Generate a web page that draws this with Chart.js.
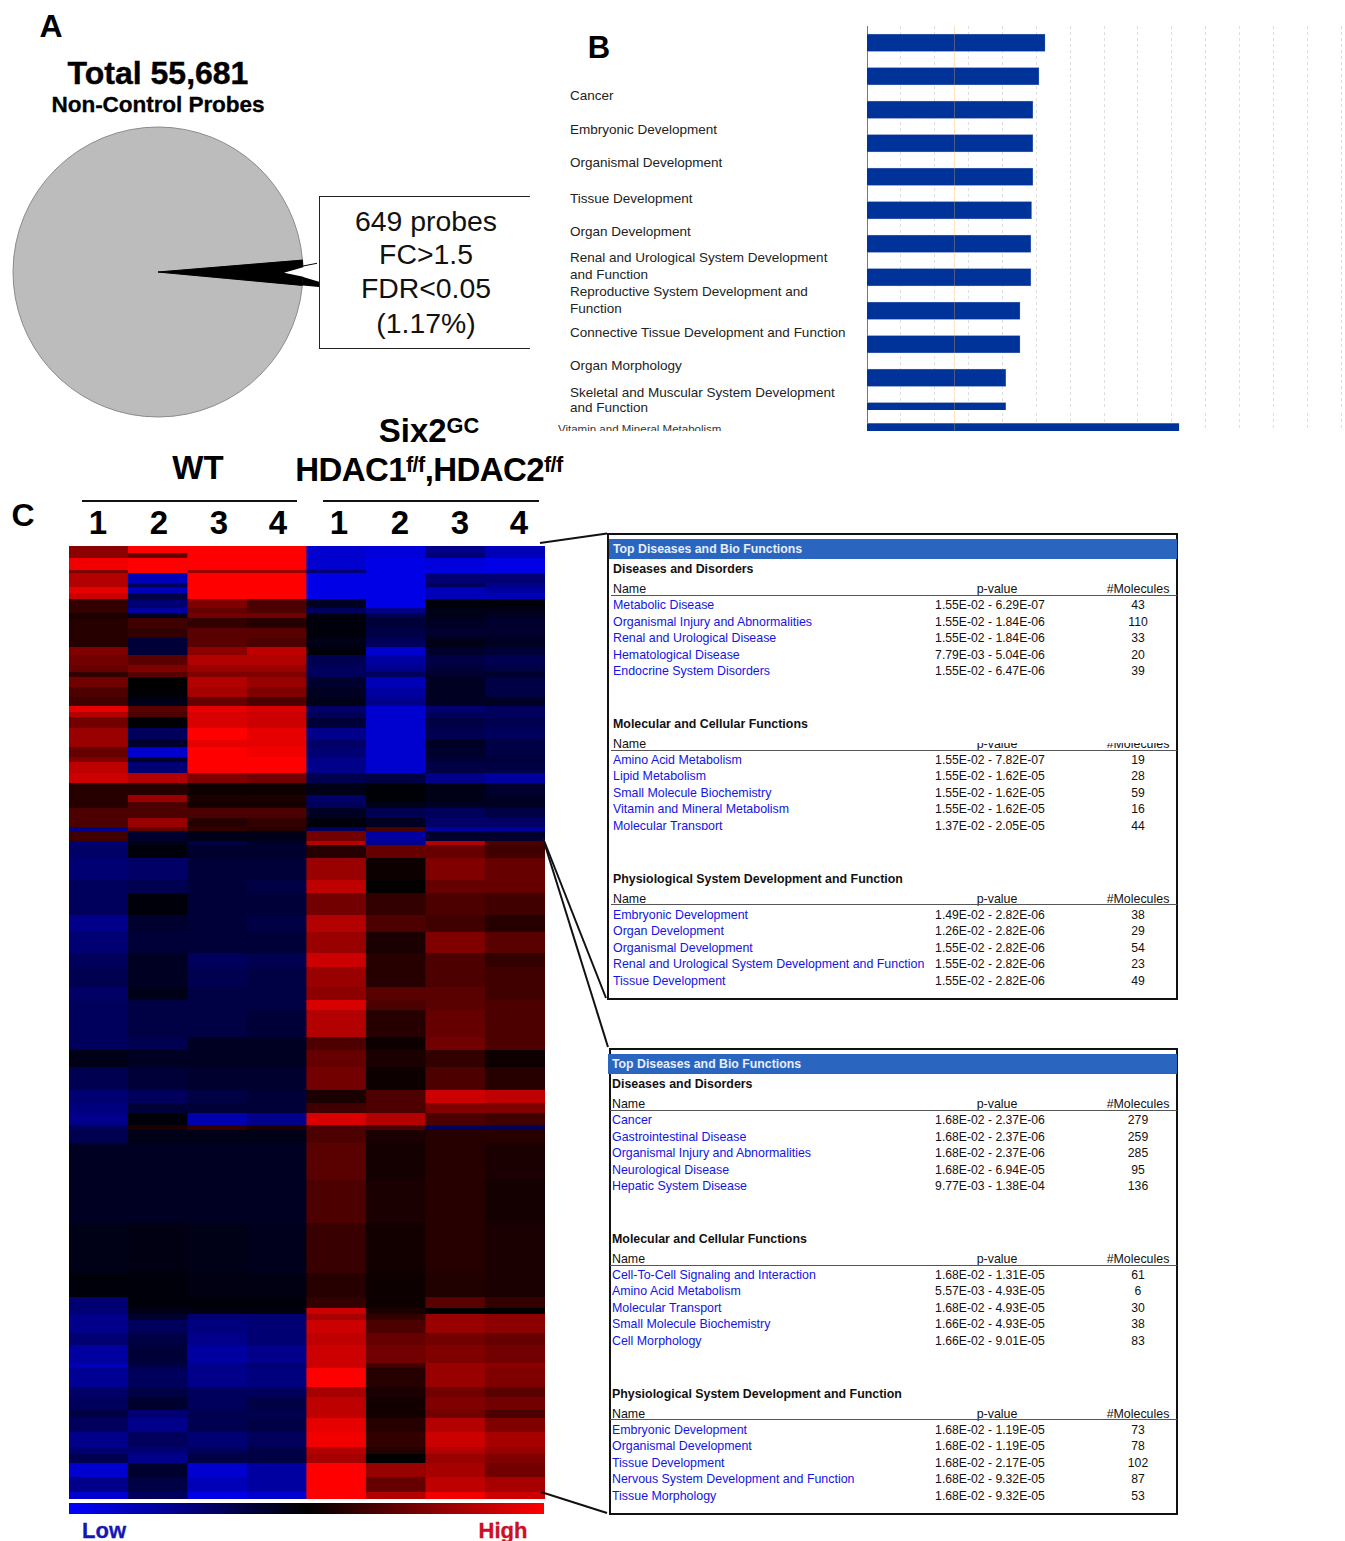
<!DOCTYPE html>
<html><head><meta charset="utf-8">
<script src="https://cdn.jsdelivr.net/npm/chart.js@4/dist/chart.umd.min.js"></script>
<style>
html,body{margin:0;padding:0;background:#fff}
#page{position:relative;width:1345px;height:1541px;overflow:hidden;font-family:"Liberation Sans",Arial,sans-serif;color:#000}
.t{position:absolute;white-space:nowrap;line-height:1}
.c{transform:translate(-50%,-50%)}
.m{transform:translateY(-50%)}
.clip{position:absolute;overflow:hidden}
canvas{display:block}
sup{font-size:.66em;line-height:0;vertical-align:baseline;position:relative;top:-.42em}
.box{position:absolute;border:2px solid #111;box-sizing:border-box;background:#fff}
</style></head><body><div id="page"></div>
<script>
/* ---------- A: pie ---------- */
const pieLabels = ['Unchanged probes', 'Changed probes'];
const pieValues = [54134, 1547];            // slice widths as drawn in the picture
const pieColors = ['#bcbcbc', '#000000'];
const boxLines = ['649 probes', 'FC>1.5', 'FDR<0.05', '(1.17%)'];

/* ---------- B: enrichment bars ---------- */
const barLabels = ['Cancer','Embryonic Development','Organismal Development','Tissue Development','Organ Development',
 'Renal and Urological System Development|and Function','Reproductive System Development and|Function',
 'Connective Tissue Development and Function','Organ Morphology','Skeletal and Muscular System Development|and Function',
 'Vitamin and Mineral Metabolism'];
const barCategories = ['a','b','c','d','e','f','g','h','i','j','k','l','m'];
const barValues = [2.63,2.54,2.45,2.45,2.45,2.43,2.42,2.42,2.26,2.26,2.05,2.05,4.61];
const threshold = 1.3;

/* ---------- C: heat map ---------- */
const heatColumns = ['WT1','WT2','WT3','WT4','KO1','KO2','KO3','KO4'];
const heatSpans = [7,5,12,3,10,4,6,6,9,5,5,10,10,9,8,10,7,5,10,10,9,6,5,11,12,7,10,5,11,10,12,7,6,10,9,4,
 10,4,13,22,13,22,17,21,14,20,13,10,27,13,17,23,13,10,12,5,13,37,43,50,24,
 11,6,6,13,12,18,5,19,10,13,8,14,15,7,9,14,15,7];
const heatRows = [
[5.5,10,10,10,-9,-9.5,-6,-8],[5.5,4,10,10,-9,-9.5,-5,-8],[9.5,10,10,10,-9,-10,-9.5,-10],[5,10,6,6,-5,-10,-10,-10],
[7,-8,10,10,-10,-10,-5,-5],[7,-4,10,10,-10,-10,-4,-6],[9,-8,10,10,-10,-10,-8,-7],[8,-3,10,10,-10,-10,-8,-8],
[2,-5,5,3,-1.5,-10,-.5,-.5],[2,-7,4,3,-4,-6,-1,-1],[1,-1.5,4.5,4.5,-.8,-3.5,-1,-1.5],[1.5,2.5,2,1.5,-.5,-2.5,-1.5,-2],
[1.5,2,3.5,3.5,-.5,-3,-2,-2],[1.5,-2.5,3.5,3,-1,-4,-1,-1.5],[5,-2.5,5.5,7.5,-.5,-9,-2,-2.5],[4.5,3.5,7,7,-3.5,-7,-3,-3.5],
[4,5,6,6,-4,-6,-2.5,-3],[2,3.5,5,5,-4,-4,-2,-2],[4.5,0,7,6,-2,-8,-1.5,-3],[3,-.2,6.5,5,-1.5,-7,-1.5,-3],
[2.5,-1,4,3,-1,-6,-1.5,-1.5],[9,3.5,9,8.5,-4.5,-9,-5,-4],[7,3,8.5,8,-4,-9,-4,-4],[4.5,-.2,8.5,8,-2.5,-9,-3,-3.5],
[6,-4,10,9,-6,-9,-3.5,-4],[6,-2,9,9,-4.5,-9,-1.5,-3],[4,-9,10,9.5,-5,-9,-2,-3],[5,-2,10,10,-6,-9,-2.5,-2.5],
[7.5,-5,10,10,-6,-9,-3,-3],[8,7,5,4.5,-3.5,-3,-6,-7],[1.5,1.5,.5,.5,-1,-.3,-1,-2],[1.5,6,1,1,-4.5,-.3,-1,-1.5],
[1.5,3,.8,.8,-4,-1,-1.5,-1.5],[3,3,3,3,-1.5,-3.5,-4,-3],[3,6,1.5,2,-.5,-1.5,-4.5,-4.5],[-6,4,2,1.5,-4,3,-7,-7],
[2.5,-2,-1,-1,4.5,-7,-2,-2],[-5,-1,-3,-2,7,-6,7,3],[-4.5,-.5,-2,-2,1.5,4,4,2.5],[-5,-4.5,-2.5,-2.5,6,.5,5,4],
[-4,-3.5,-2.5,-3,7.5,0,4,4],[-4,-.5,-2.5,-2.5,4.5,2,3,2.5],[-6,-2,-2.5,-3,7,3,2.5,1.5],[-5,-2.5,-2.5,-2.5,6,1,5,3.5],
[-4,-1.5,-4,-3.5,8,1.5,3,2],[-3.5,-1.5,-3.5,-3,6,1.5,3,2.5],[-4.5,-1,-3,-3,5.5,3.5,3.5,2.5],[-4,-3,-3,-3,8.5,3,3.5,3],
[-4,-3,-3,-2.5,7,1.5,4,3],[-4,-3.5,-1.5,-1.5,3,.5,4.5,3],[-1,-1.5,-1.5,-1.5,4,1,2,.5],[-3.5,-2.5,-2,-2,4.5,.5,3,1.5],
[-5,-4,-3,-2.5,1,3,8,7.5],[-5.5,-2.5,-2.5,-2.5,2.5,3,5,5],[-6,-.5,-7.5,-6,8.5,7,3,2.5],[-4,1,2,1,3,3,-4,-4],
[-3.5,-1,-1,-1,3,1,1.5,1.5],[-1.5,-1.5,-1.5,-1.5,3.5,.8,1.5,1],[-1.5,-1.5,-1.5,-1.5,3,1,1.5,.8],[-1,-.8,-1,-1.2,2.2,.7,1.5,1],
[-.5,-.5,-.8,-.8,1.5,.5,1.3,1],
[-5,-.5,-.5,-.5,2,.5,3.5,2],[-5,-1,-.7,-.7,8,1,0,0],[-6,-2,-5,-5,6.5,2,6,5.5],[-6,-4,-5.5,-5,8,3,6,5.5],
[-5,-3,-6,-5,7.5,4,4.5,4],[-7,-2.5,-7,-6,8,4.5,5,4.5],[-8,-3,-6,-5,8,2.5,6,5.5],[-6.5,-4,-6,-5.5,10,1.5,6,5],
[-4.5,-3,-4,-4,6.5,1,4.5,3.5],[-4,-2,-4,-3,7.5,.7,5,4.5],[-3,-5,-3.5,-3.5,7.5,.7,4.5,3],[-4,-6,-3.5,-3,9,1.5,7,5],
[-6,-4,-5,-4,9.5,2,8,6.5],[-5,-5,-4,-3,7,1.5,7,6],[-3.5,-6,-3,-3,6.5,0,6,5],[-9,-2,-9,-7,10,6,6.5,4.5],
[-6,-3,-8,-7,10,4,7.5,6.5],[-9,-4,-10,-9,10,7,9.5,8]
];
const sampleNumbers = ['1','2','3','4','1','2','3','4'];

/* ---------- D: tables ---------- */
const tableSections = ['Diseases and Disorders','Molecular and Cellular Functions','Physiological System Development and Function'];
const table1Names = ['Metabolic Disease','Organismal Injury and Abnormalities','Renal and Urological Disease','Hematological Disease','Endocrine System Disorders',
 'Amino Acid Metabolism','Lipid Metabolism','Small Molecule Biochemistry','Vitamin and Mineral Metabolism','Molecular Transport',
 'Embryonic Development','Organ Development','Organismal Development','Renal and Urological System Development and Function','Tissue Development'];
const table1P = ['1.55E-02 - 6.29E-07','1.55E-02 - 1.84E-06','1.55E-02 - 1.84E-06','7.79E-03 - 5.04E-06','1.55E-02 - 6.47E-06',
 '1.55E-02 - 7.82E-07','1.55E-02 - 1.62E-05','1.55E-02 - 1.62E-05','1.55E-02 - 1.62E-05','1.37E-02 - 2.05E-05',
 '1.49E-02 - 2.82E-06','1.26E-02 - 2.82E-06','1.55E-02 - 2.82E-06','1.55E-02 - 2.82E-06','1.55E-02 - 2.82E-06'];
const table1N = ['43','110','33','20','39','19','28','59','16','44','38','29','54','23','49'];
const table2Names = ['Cancer','Gastrointestinal Disease','Organismal Injury and Abnormalities','Neurological Disease','Hepatic System Disease',
 'Cell-To-Cell Signaling and Interaction','Amino Acid Metabolism','Molecular Transport','Small Molecule Biochemistry','Cell Morphology',
 'Embryonic Development','Organismal Development','Tissue Development','Nervous System Development and Function','Tissue Morphology'];
const table2P = ['1.68E-02 - 2.37E-06','1.68E-02 - 2.37E-06','1.68E-02 - 2.37E-06','1.68E-02 - 6.94E-05','9.77E-03 - 1.38E-04',
 '1.68E-02 - 1.31E-05','5.57E-03 - 4.93E-05','1.68E-02 - 4.93E-05','1.66E-02 - 4.93E-05','1.66E-02 - 9.01E-05',
 '1.68E-02 - 1.19E-05','1.68E-02 - 1.19E-05','1.68E-02 - 2.17E-05','1.68E-02 - 9.32E-05','1.68E-02 - 9.32E-05'];
const table2N = ['279','259','285','95','136','61','6','30','38','83','73','78','102','87','53'];

/* ---------- helpers ---------- */
const page = document.getElementById('page');
function txt(s, x, y, size, opts = {}) {
  const e = document.createElement('div');
  e.className = 't ' + (opts.cls || 'c');
  e.style.left = x + 'px'; e.style.top = y + 'px'; e.style.fontSize = size + 'px';
  if (opts.bold) e.style.fontWeight = 'bold';
  if (opts.color) e.style.color = opts.color;
  if (opts.spacing) e.style.letterSpacing = opts.spacing + 'px';
  if (opts.stroke) e.style.webkitTextStroke = opts.stroke + 'px ' + (opts.color || '#000');
  if (opts.html) e.innerHTML = s; else e.textContent = s;
  (opts.parent || page).appendChild(e);
  return e;
}
function canvasAt(x, y, w, h, parent) {
  const c = document.createElement('canvas');
  c.width = w; c.height = h;
  c.style.cssText = `position:absolute;left:${x}px;top:${y}px;width:${w}px;height:${h}px`;
  (parent || page).appendChild(c);
  return c;
}
function clipAt(x, y, w, h) {
  const d = document.createElement('div');
  d.className = 'clip';
  d.style.cssText = `left:${x}px;top:${y}px;width:${w}px;height:${h}px`;
  page.appendChild(d);
  return d;
}
const baseOpts = {responsive:false, animation:false, devicePixelRatio:1,
  plugins:{legend:{display:false}, tooltip:{enabled:false}}};

/* ---------- A ---------- */
txt('A', 51, 26, 32, {bold:true});
txt('Total 55,681', 158, 73, 32, {bold:true, stroke:.4});
txt('Non-Control Probes', 158, 105, 22.6, {bold:true, stroke:.3, spacing:-.1});
new Chart(canvasAt(8, 122, 300, 300), {
  type:'pie',
  data:{labels:pieLabels, datasets:[{data:pieValues, backgroundColor:pieColors,
    borderColor:['#8a8a8a','#000'], borderWidth:1}]},
  options:{...baseOpts, rotation:95.3, radius:145, layout:{padding:0}}
});
const box = document.createElement('div');
box.style.cssText = 'position:absolute;left:319px;top:196px;width:211px;height:153px;border:1.5px solid #222;border-right:none;box-sizing:border-box';
page.appendChild(box);
[221,254,288,323].forEach((y,i) => txt(boxLines[i], 426, y, 28.4, {color:'#111'}));

/* ---------- B ---------- */
txt('B', 599, 47, 31, {bold:true});
const thresholdLine = {id:'thr', afterDatasetsDraw(ch){
  const x = ch.scales.x.getPixelForValue(threshold), a = ch.chartArea, g = ch.ctx;
  g.save(); g.strokeStyle = 'rgba(240,170,80,.32)'; g.lineWidth = 1;
  g.beginPath(); g.moveTo(Math.round(x)-.5, a.top); g.lineTo(Math.round(x)-.5, a.bottom); g.stroke(); g.restore();
}};
function barChart(canvas, cats, vals) {
  return new Chart(canvas, {
    type:'bar',
    plugins:[thresholdLine],
    data:{labels:cats, datasets:[{data:vals, backgroundColor:'#003399', borderColor:'#8fa3d0', borderWidth:{top:.5,bottom:.5,left:0,right:.5}, borderSkipped:false, barThickness:17.5}]},
    options:{...baseOpts, indexAxis:'y', layout:{padding:{right:4}},
      scales:{
        x:{type:'linear', min:0, max:7, afterBuildTicks:a=>{a.ticks=[];for(let v=.5;v<=7;v+=.5)a.ticks.push({value:v});},
           ticks:{display:false}, border:{display:false, dash:[3,3]}, grid:{color:'#dedede', lineWidth:1, drawTicks:false}},
        y:{ticks:{display:false}, border:{color:'#777',display:true}, grid:{display:false,drawTicks:false}}
      }}
  });
}
const clipTop = clipAt(867, 26, 478, 384);
barChart(canvasAt(0, 0, 478, 402, clipTop), barCategories.slice(0,12), barValues.slice(0,12));
const clipBottom = clipAt(867, 410, 478, 21);
barChart(canvasAt(0, -3.25, 478, 50, clipBottom), barCategories.slice(12), barValues.slice(12));

const labelRows = [[96],[130],[163],[199],[232],[258,275],[292,309],[333],[366],[393,408]];
labelRows.forEach((ys,i) => barLabels[i].split('|').forEach((s,j) =>
  txt(s, 570, ys[j], 13.5, {cls:'m', color:'#222'})));
const vitClip = clipAt(550, 425, 200, 6);
txt(barLabels[10], 8, 5, 11.5, {cls:'m', color:'#333', parent:vitClip});

/* ---------- C ---------- */
txt('C', 23, 515, 32, {bold:true});
txt('WT', 198, 467, 33, {bold:true});
txt('Six2<sup>GC</sup>', 429, 430, 33, {bold:true, html:true});
txt('HDAC1<sup>f/f</sup>,HDAC2<sup>f/f</sup>', 429, 469, 33, {bold:true, html:true, spacing:-.6});
[[82,215],[323,216]].forEach(([x,w]) => {
  const l = document.createElement('div');
  l.style.cssText = `position:absolute;left:${x}px;top:500px;width:${w}px;height:1.6px;background:#111`;
  page.appendChild(l);
});
[98,159,219,278,339,400,460,519].forEach((x,i) => txt(sampleNumbers[i], x, 522, 33, {bold:true}));

function heatColor(v){
  const k = Math.abs(v)/10*255;
  return v >= 0 ? `rgb(${Math.round(k)},0,0)` : `rgb(0,0,${Math.round(k*.9)})`;
}
const totalSpan = heatSpans.reduce((a,b)=>a+b,0);
new Chart(canvasAt(69, 546, 476, totalSpan), {
  type:'bar',
  data:{labels:heatColumns, datasets:heatRows.map((row,i)=>({
    data:heatColumns.map(()=>heatSpans[i]),
    backgroundColor:row.map(heatColor),
    borderWidth:0, barPercentage:1.02, categoryPercentage:1, stack:'h'}))},
  options:{...baseOpts, layout:{padding:0},
    scales:{x:{display:false, stacked:true}, y:{display:false, stacked:true, reverse:true, min:0, max:totalSpan}}}
});
const bar = document.createElement('div');
bar.style.cssText = 'position:absolute;left:69px;top:1503px;width:475px;height:11px;background:linear-gradient(90deg,#0000ff,#000000 50%,#ff0000)';
page.appendChild(bar);
txt('Low', 104, 1531, 22, {bold:true, color:'#1616b4', stroke:.3});
txt('High', 503, 1531, 22, {bold:true, color:'#cc1020', stroke:.3});

/* ---------- D ---------- */
function table(x0, y0, left, names, ps, ns){
  const b = document.createElement('div');
  b.className = 'box';
  b.style.cssText = `left:${left}px;top:${y0}px;width:${1178-left}px;height:467px`;
  page.appendChild(b);
  const band = document.createElement('div');
  band.style.cssText = `position:absolute;left:${x0-4}px;top:${y0+6}px;width:${1177-x0+4}px;height:20px;background:#2a66c0`;
  page.appendChild(band);
  txt('Top Diseases and Bio Functions', x0, y0+16, 12.3, {cls:'m', bold:true, color:'#e8eefa'});
  const sec = [36,191,346], head = [55.5,210.5,366], rule = [62,216.5,371], rows = [72,88.5,105,121.5,138];
  tableSections.forEach((s,i) => {
    txt(s, x0, y0+sec[i], 12.4, {cls:'m', bold:true, color:'#111'});
    txt('Name', x0, y0+head[i], 12.4, {cls:'m', color:'#111'});
    txt('p-value', 997, y0+head[i], 12.4, {color:'#111'});
    txt('#Molecules', 1138, y0+head[i], 12.4, {color:'#111'});
    const r = document.createElement('div');
    r.style.cssText = `position:absolute;left:${x0-2}px;top:${y0+rule[i]}px;width:${1177-x0+2}px;height:1px;background:#555`;
    page.appendChild(r);
    rows.forEach((dy,j) => {
      const k = i*5+j, off = (i===0?0:(i===1?154.5:309.5));
      txt(names[k], x0, y0+dy+off, 12.4, {cls:'m', color:'#1414e6'});
      txt(ps[k], 990, y0+dy+off, 12.2, {color:'#111'});
      txt(ns[k], 1138, y0+dy+off, 12.2, {color:'#111'});
    });
  });
}
table(613, 533, 607, table1Names, table1P, table1N);
table(612, 1048, 609, table2Names, table2P, table2N);

/* cropped spots of the first table, as in the pasted screenshot */
[[970,736,205,7],[610,830,560,5]].forEach(([x,y,w,h]) => {
  const m = document.createElement('div');
  m.style.cssText = `position:absolute;left:${x}px;top:${y}px;width:${w}px;height:${h}px;background:#fff`;
  page.appendChild(m);
});

/* connector lines + pie callout details */
const svgNS = 'http://www.w3.org/2000/svg';
const svg = document.createElementNS(svgNS,'svg');
svg.setAttribute('width',1345); svg.setAttribute('height',1541);
svg.style.cssText = 'position:absolute;left:0;top:0;pointer-events:none';
svg.innerHTML = `
<polygon points="284,272.7 304,267 304.5,277" fill="#fff"/>
<polygon points="303,277 319,281.7 319,287 303,285.5" fill="#000"/>
<line x1="303" y1="266" x2="317" y2="263.3" stroke="#000" stroke-width="1"/>
<line x1="540" y1="543" x2="607" y2="533.5" stroke="#111" stroke-width="2"/>
<line x1="543" y1="838" x2="606" y2="998" stroke="#111" stroke-width="2"/>
<line x1="545" y1="845" x2="608" y2="1047" stroke="#111" stroke-width="2"/>
<line x1="541" y1="1492" x2="607" y2="1513" stroke="#111" stroke-width="2"/>`;
page.appendChild(svg);
</script></body></html>
